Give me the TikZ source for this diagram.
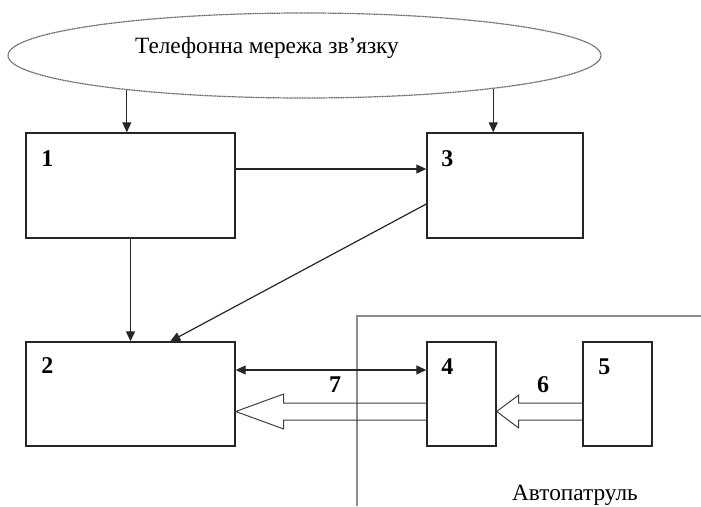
\documentclass[tikz,border=0pt]{standalone}
\usepackage{fontspec}
\setmainfont{Liberation Serif}
\usetikzlibrary{shapes.geometric,arrows.meta,calc}
\begin{document}
\begin{tikzpicture}[x=1pt,y=1pt,
  box/.style={draw=black!85,line width=1.4pt,rectangle,inner sep=0pt},
  num/.style={font=\fontsize{24}{26}\selectfont\bfseries,inner sep=0pt},
  txt/.style={font=\fontsize{23.3}{25}\selectfont,inner sep=0pt},
  arr/.style={draw=black!85,line width=1.2pt,-{Triangle[length=10pt,width=9pt]}},
  darr/.style={draw=black!85,line width=1.2pt,{Triangle[length=10pt,width=9pt]}-{Triangle[length=10pt,width=9pt]}},
  hollow/.style={draw=black!75,line width=1pt,line join=miter},
  frame/.style={draw=black!45,line width=1.2pt},
  cloud/.style={ellipse,draw=black!60,line width=1.2pt,dash pattern=on 1.2pt off 0.5pt,inner sep=0pt},
]
\path[use as bounding box] (0,0) rectangle (701,-506);

% network ellipse and its caption
\node[cloud,minimum width=593pt,minimum height=85pt] (ell) at (304.5,-55.5) {};
\node[txt] (ellt) at (267,-48) {Телефонна мережа зв’язку};

% blocks
\node[box,minimum width=209pt,minimum height=105pt] (b1) at (130.5,-185.5) {};
\node[box,minimum width=156pt,minimum height=105pt] (b3) at (505,-185.5) {};
\node[box,minimum width=209pt,minimum height=104pt] (b2) at (130.5,-394) {};
\node[box,minimum width=69pt,minimum height=104pt] (b4) at (461.5,-394) {};
\node[box,minimum width=69pt,minimum height=104pt] (b5) at (617.5,-394) {};

% block numbers
\node[num] (l1) at ($(b1.north west)+(22,-26)$) {1};
\node[num] (l3) at ($(b3.north west)+(21,-26)$) {3};
\node[num] (l2) at ($(b2.north west)+(22,-24)$) {2};
\node[num] (l4) at ($(b4.north west)+(21,-25)$) {4};
\node[num] (l5) at ($(b5.north west)+(22,-25)$) {5};

% patrol car frame
\coordinate (f1) at (357,-506);
\coordinate (f2) at (357,-316);
\coordinate (f3) at (701,-316);
\draw[frame] (f1) -- (f2) -- (f3);
\node[txt] (pat) at (575,-495) {Автопатруль};

% connectors
\draw[arr] (ell.191.2) -- (ell.191.2 |- b1.north);
\draw[arr] (ell.350.4) -- (ell.350.4 |- b3.north);
\coordinate (p13) at ($(b1.east)+(0,16.5)$);
\draw[arr] (p13) -- (p13 -| b3.west);
\coordinate (p32) at ($(b3.west)+(0,-18.5)$);
\coordinate (q32) at ($(b2.north west)+(145,0)$);
\draw[arr] (p32) -- (q32);
\draw[arr] (b1.south) -- (b2.north);
\coordinate (p24) at ($(b2.east)+(0,24)$);
\draw[darr] (p24) -- (p24 -| b4.west);

% wide hollow arrows
\draw[hollow] let \p1=(b4.west), \p2=(b2.east) in
  (\x1,\y1-9pt) -- (\x2+48pt,\y1-9pt) -- (\x2+48pt,\y1) -- (\x2,\y1-17.5pt)
  -- (\x2+48pt,\y1-35pt) -- (\x2+48pt,\y1-26pt) -- (\x1,\y1-26pt);
\draw[hollow] let \p1=(b5.west), \p2=(b4.east) in
  (\x1,\y1-9pt) -- (\x2+22pt,\y1-9pt) -- (\x2+22pt,\y1-1pt) -- (\x2,\y1-17.5pt)
  -- (\x2+22pt,\y1-34pt) -- (\x2+22pt,\y1-26pt) -- (\x1,\y1-26pt);
\node[num] (n7) at (335,-385) {7};
\node[num] (n6) at (543,-385) {6};
\end{tikzpicture}
\end{document}
